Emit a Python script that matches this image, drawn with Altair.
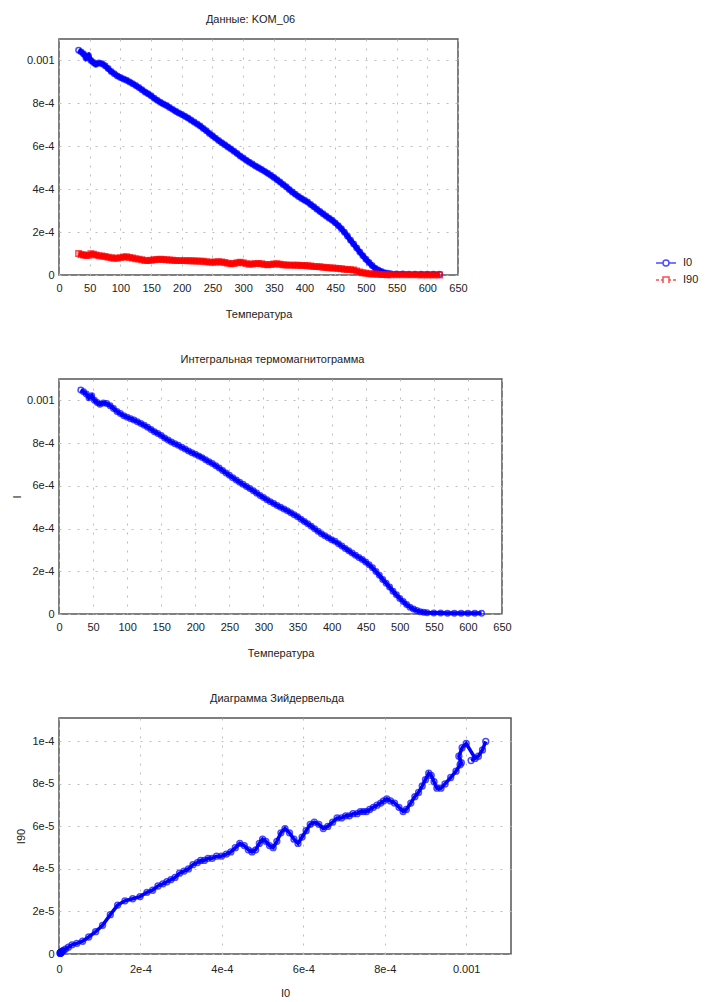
import altair as alt
import pandas as pd

# ---- data (I0, I90 in units of 1e-6) ----
TEMP = [32, 36, 40, 44, 48, 52, 56, 60, 65, 70, 75, 80, 85, 90, 95, 100, 105, 110, 115, 120,
        125, 130, 135, 140, 145, 150, 155, 160, 165, 170, 175, 180, 185, 190, 195, 200, 205, 210,
        215, 220, 225, 230, 235, 240, 245, 250, 255, 260, 265, 270, 275, 280, 285, 290, 295, 300,
        305, 310, 315, 320, 325, 330, 335, 340, 345, 350, 355, 360, 365, 370, 375, 380, 385, 390,
        395, 400, 405, 410, 415, 420, 425, 430, 435, 440, 445, 450, 455, 460, 465, 470, 475, 480,
        485, 490, 495, 500, 505, 510, 515, 520, 525, 530, 535, 540, 550, 560, 570, 580, 590, 600,
        610, 620]
I0_MICRO = [1048, 1040, 1030, 1012, 1022, 1000, 990, 982, 988, 985, 975, 962, 948, 938, 928, 921,
            914, 908, 900, 892, 883, 874, 864, 853, 845, 835, 824, 814, 805, 797, 790, 781, 772,
            763, 755, 748, 740, 732, 722, 713, 704, 694, 683, 672, 660, 649, 638, 627, 617, 607,
            597, 587, 577, 566, 555, 545, 535, 526, 517, 508, 500, 492, 483, 474, 465, 455, 444,
            433, 422, 411, 399, 387, 376, 366, 357, 348, 340, 329, 318, 307, 296, 285, 275, 265,
            255, 243, 230, 216, 199, 181, 162, 144, 126, 107, 90, 73, 58, 44, 32, 23, 16, 11, 8,
            6, 5, 5, 4, 4, 4, 3, 3, 3]
I90_MICRO = [100, 96, 93, 91, 92, 99, 97, 93, 90, 89, 86, 83, 80, 78, 78, 81, 84, 85, 82, 79, 76,
             74, 71, 68, 67, 69, 71, 72, 73, 72, 71, 70, 69, 68, 67, 67, 67, 66, 66, 65, 65, 64,
             64, 62, 60, 59, 61, 62, 61, 58, 55, 52, 54, 57, 59, 57, 53, 50, 51, 53, 54, 52, 49,
             48, 49, 51, 52, 50, 48, 47, 46, 46, 45, 45, 44, 44, 43, 42, 40, 39, 38, 36, 35, 34,
             33, 32, 30, 29, 27, 26, 25, 23, 18.5, 13.5, 10.5, 8, 6, 5, 4.3, 3.2, 2.3, 1.7, 1.3,
             1.0, 0.8, 0.7, 0.6, 0.6, 0.5, 0.5, 0.4, 0.4]

SERIES = ["I0", "I90"]
COLORS = ["#0000ff", "#ff0000"]
TEMP_TICKS = [0, 50, 100, 150, 200, 250, 300, 350, 400, 450, 500, 550, 600, 650]
I_TICKS = [0, 0.0002, 0.0004, 0.0006, 0.0008, 0.001]
I90_TICKS = [0, 0.00002, 0.00004, 0.00006, 0.00008, 0.0001]

df = pd.DataFrame({
    "T": TEMP,
    "I0": [v * 1e-6 for v in I0_MICRO],
    "I90": [v * 1e-6 for v in I90_MICRO],
    "order": list(range(len(TEMP))),
})
legend_df = pd.DataFrame({"series": SERIES})

FONT = "Liberation Sans"
I_LABEL = "datum.value == 0 ? '0' : datum.value > 0.00099 ? '0.001' : format(datum.value, '.0e')"
SMALL_LABEL = "datum.value == 0 ? '0' : format(datum.value, '.0e')"

LINE_PATH_I0 = "M-1,0H-0.3M0.3,0H1M-0.3,0A0.3,0.3,0,1,1,0.3,0A0.3,0.3,0,1,1,-0.3,0"
LINE_PATH_I90 = "M-1,0H-0.7M-0.5,0H-0.3M0.3,0H0.5M0.7,0H1M-0.3,0.3V-0.3H0.3V0.3"

x_temp = alt.X("T:Q", title="Температура",
               scale=alt.Scale(domain=[0, 650], nice=False),
               axis=alt.Axis(values=TEMP_TICKS, format="d", labelPadding=7, titlePadding=15))


def title(text):
    return alt.TitleParams(text, font=FONT, fontSize=11, fontWeight="normal",
                           color="#222", anchor="middle", frame="group", offset=14, dx=-8)


def legend_spec():
    return alt.Legend(title=None, orient="none", legendX=596, legendY=213,
                      symbolSize=400, symbolStrokeWidth=1.5, rowPadding=-4,
                      labelFont=FONT, labelFontSize=11, labelColor="#222",
                      labelOffset=6, padding=0)


# ---------- chart 1: I0 and I90 vs temperature ----------
base1 = alt.Chart(df)
y1_i0 = alt.Y("I0:Q", title=None, scale=alt.Scale(domain=[0, 0.0011], nice=False),
              axis=alt.Axis(values=I_TICKS, labelExpr=I_LABEL, minExtent=48, maxExtent=48))
y1_i90 = alt.Y("I90:Q", title=None, scale=alt.Scale(domain=[0, 0.0011], nice=False),
               axis=alt.Axis(values=I_TICKS, labelExpr=I_LABEL, minExtent=48, maxExtent=48))

blue_line1 = base1.mark_line(color=COLORS[0], strokeWidth=5).encode(x=x_temp, y=y1_i0, order="order:Q")
blue_pts1 = base1.mark_point(color=COLORS[0], shape="circle", size=30, strokeWidth=1.5,
                             filled=False).encode(x=x_temp, y=y1_i0)
red_line1 = base1.mark_line(color=COLORS[1], strokeWidth=5).encode(x=x_temp, y=y1_i90, order="order:Q")
red_pts1 = base1.mark_point(color=COLORS[1], shape="square", size=30, strokeWidth=1.5,
                            filled=False).encode(x=x_temp, y=y1_i90)
legend_layer = alt.Chart(legend_df).mark_point(filled=False, strokeWidth=1.5).transform_filter(
    "false").encode(
    color=alt.Color("series:N", scale=alt.Scale(domain=SERIES, range=COLORS), legend=legend_spec()),
    shape=alt.Shape("series:N", scale=alt.Scale(domain=SERIES, range=[LINE_PATH_I0, LINE_PATH_I90]),
                    legend=legend_spec()),
)

chart1 = alt.layer(blue_line1, blue_pts1, red_line1, red_pts1, legend_layer).properties(
    width=399, height=236, title=title("Данные: KOM_06"))

# ---------- chart 2: integral thermomagnetogram ----------
y2 = alt.Y("I0:Q", title="I", scale=alt.Scale(domain=[0, 0.0011], nice=False),
           axis=alt.Axis(values=I_TICKS, labelExpr=I_LABEL, titleX=-42, titleBaseline="middle"))
base2 = alt.Chart(df)
chart2 = alt.layer(
    base2.mark_line(color=COLORS[0], strokeWidth=4).encode(x=x_temp, y=y2, order="order:Q"),
    base2.mark_point(color=COLORS[0], shape="circle", size=30, strokeWidth=1.5,
                     filled=False).encode(x=x_temp, y=y2),
).properties(width=443, height=235, title=title("Интегральная термомагнитограмма"))

# ---------- chart 3: Zijderveld diagram ----------
x3 = alt.X("I0:Q", title="I0", scale=alt.Scale(domain=[0, 0.00111], nice=False),
           axis=alt.Axis(values=I_TICKS, labelExpr=I_LABEL, labelPadding=9, titlePadding=13))
y3 = alt.Y("I90:Q", title="I90", scale=alt.Scale(domain=[0, 0.000111], nice=False),
           axis=alt.Axis(values=I90_TICKS, labelExpr=SMALL_LABEL, titleX=-38, titleBaseline="middle"))
base3 = alt.Chart(df)
chart3 = alt.layer(
    base3.mark_line(color=COLORS[0], strokeWidth=3.5).encode(x=x3, y=y3, order="order:Q"),
    base3.mark_point(color=COLORS[0], shape="circle", size=34, strokeWidth=1.5,
                     filled=False).encode(x=x3, y=y3),
).properties(width=452, height=236, title=title("Диаграмма Зийдервельда"))

chart = alt.vconcat(chart1, chart2, chart3, spacing=33).properties(
    padding={"left": 10, "top": 13, "right": 2, "bottom": 2}
).configure(font=FONT).configure_axis(
    labelFont=FONT, labelFontSize=11, labelColor="#222",
    titleFont=FONT, titleFontSize=11, titleFontWeight="normal", titleColor="#222",
    grid=True, gridColor="#bdbdbd", gridDash=[2, 7], gridWidth=1,
    ticks=False, domain=False, labelPadding=5, titlePadding=12, labelFlush=False,
).configure_view(stroke="#555", strokeWidth=1.5)

chart.save("out.html", embed_options={"renderer": "svg", "actions": False})
